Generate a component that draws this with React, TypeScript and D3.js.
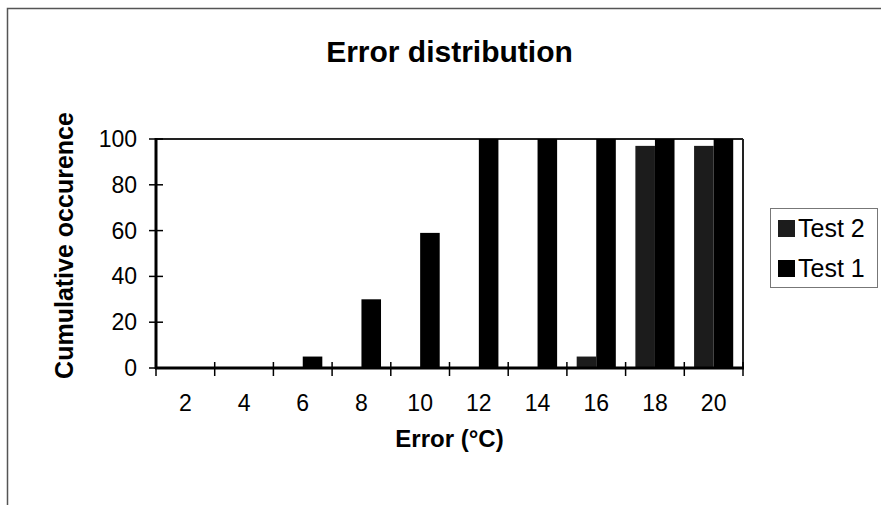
import React from "react";
import * as d3 from "d3";

const categories = ["2", "4", "6", "8", "10", "12", "14", "16", "18", "20"];
const seriesNames = ["Test 2", "Test 1"];
const test2Values = [0, 0, 0, 0, 0, 0, 0, 5, 97, 97];
const test1Values = [0, 0, 5, 30, 59, 100, 100, 100, 100, 100];
const yTicks = [0, 20, 40, 60, 80, 100];
const seriesColors = ["#1c1c1c", "#000000"];

const FONT = "'Liberation Sans', Arial, sans-serif";

export default function App() {
  const W = 881, H = 505;
  const left = 156, right = 743, top = 139, bottom = 368;
  const x0 = d3.scaleBand<string>().domain(categories).range([left, right]).padding(0);
  const bw = x0.bandwidth();
  const x1 = d3.scaleBand<string>().domain(seriesNames).range([bw / 6, (bw * 5) / 6]).padding(0);
  const y = d3.scaleLinear().domain([0, 100]).range([bottom, top]);
  const series = [test2Values, test1Values];

  return (
    <svg width={W} height={H} style={{ position: "absolute", left: 0, top: 0, background: "#fff" }}>
      <rect x={7.5} y={8.5} width={1000} height={700} fill="#fff" stroke="#555" strokeWidth={1.5} />
      <text x={(left + right) / 2} y={62} textAnchor="middle" fontFamily={FONT} fontWeight="bold" fontSize={30}>
        Error distribution
      </text>

      {/* plot border */}
      <line x1={left} x2={right} y1={top} y2={top} stroke="#222" strokeWidth={2} />
      <line x1={right} x2={right} y1={top} y2={bottom} stroke="#222" strokeWidth={2} />

      {/* bars */}
      {series.map((vals, si) =>
        vals.map((v, i) =>
          v > 0 ? (
            <rect
              key={`${si}-${i}`}
              x={(x0(categories[i]) as number) + (x1(seriesNames[si]) as number)}
              y={y(v)}
              width={x1.bandwidth()}
              height={bottom - y(v)}
              fill={seriesColors[si]}
            />
          ) : null
        )
      )}

      {/* axes */}
      <line x1={left} x2={left} y1={top - 1} y2={bottom + 1} stroke="#000" strokeWidth={3} />
      <line x1={left - 1} x2={right + 1} y1={bottom} y2={bottom} stroke="#000" strokeWidth={3} />
      {yTicks.map((t) => (
        <g key={t}>
          <line x1={left - 7} x2={left + 7} y1={y(t)} y2={y(t)} stroke="#000" strokeWidth={1.5} />
          <text x={137} y={y(t) + 8} textAnchor="end" fontFamily={FONT} fontSize={23}>
            {t}
          </text>
        </g>
      ))}
      {[...categories.map((c) => x0(c) as number), right].map((xv, i) => (
        <line key={i} x1={xv} x2={xv} y1={bottom - 6} y2={bottom + 8} stroke="#000" strokeWidth={1.5} />
      ))}
      {categories.map((c) => (
        <text key={c} x={(x0(c) as number) + bw / 2} y={411} textAnchor="middle" fontFamily={FONT} fontSize={23}>
          {c}
        </text>
      ))}

      <text x={(left + right) / 2} y={447} textAnchor="middle" fontFamily={FONT} fontWeight="bold" fontSize={24}>
        Error (°C)
      </text>
      <text
        transform={`translate(73, ${(top + bottom) / 2 - 8}) rotate(-90)`}
        textAnchor="middle"
        fontFamily={FONT}
        fontWeight="bold"
        fontSize={25}
      >
        Cumulative occurence
      </text>

      {/* legend */}
      <rect x={770.5} y={208.5} width={107} height={79} fill="#fff" stroke="#777" strokeWidth={1} />
      {seriesNames.map((s, i) => (
        <g key={s}>
          <rect x={778} y={220 + i * 40} width={17} height={17} fill={seriesColors[i]} />
          <text x={798} y={237 + i * 40} fontFamily={FONT} fontSize={25}>
            {s}
          </text>
        </g>
      ))}
    </svg>
  );
}
